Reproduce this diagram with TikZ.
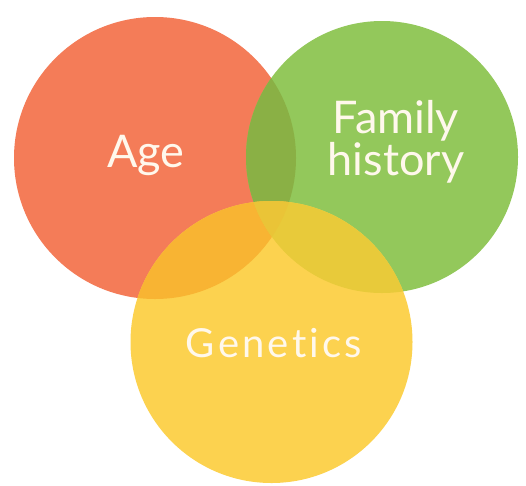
\documentclass[tikz,border=0pt]{standalone}
\usepackage{fontspec}
\setmainfont{Lato}
\newfontfamily\widefont[LetterSpace=8,Ligatures=NoCommon]{Lato}
\definecolor{cred}{HTML}{F47C58}
\definecolor{cgreen}{HTML}{93C85B}
\definecolor{cyellow}{HTML}{FCD24F}
\definecolor{crg}{HTML}{8AB045}
\definecolor{cry}{HTML}{F8B433}
\definecolor{cgy}{HTML}{E8CA3A}
\definecolor{crgy}{HTML}{EAC437}
\definecolor{ctext}{HTML}{FFF8EC}
\begin{document}
\begin{tikzpicture}[x=1pt,y=-1pt,
  lbl/.style={text=ctext,font=\fontsize{45}{38}\selectfont,align=center,inner sep=0pt}]
\useasboundingbox (0,0) rectangle (526,485);
\fill[white] (0,0) rectangle (526,485);
\coordinate (R) at (155,158);
\coordinate (G) at (382,157);
\coordinate (Y) at (271.5,342);
\def\rr{141}\def\rg{136}\def\ry{141}
\fill[cred] (R) circle[radius=\rr];
\fill[cgreen] (G) circle[radius=\rg];
\fill[cyellow] (Y) circle[radius=\ry];
\begin{scope}
  \clip (R) circle[radius=\rr];
  \fill[crg] (G) circle[radius=\rg];
  \fill[cry] (Y) circle[radius=\ry];
\end{scope}
\begin{scope}
  \clip (G) circle[radius=\rg];
  \fill[cgy] (Y) circle[radius=\ry];
\end{scope}
\begin{scope}
  \clip (R) circle[radius=\rr];
  \clip (G) circle[radius=\rg];
  \fill[crgy] (Y) circle[radius=\ry];
\end{scope}
\node[lbl,anchor=base] (age) at (146,167) {Age};
\node[lbl,anchor=base] (fam) at (396,175) {Family\\history};
\node[lbl,anchor=base,font=\widefont\fontsize{40}{40}\selectfont] (gen) at (274,357) {Genetics};
\end{tikzpicture}
\end{document}
